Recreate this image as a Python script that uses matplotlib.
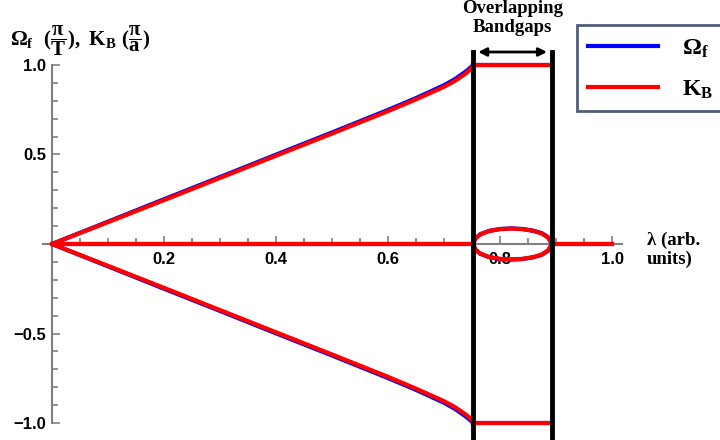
import matplotlib.pyplot as plt
from matplotlib.ticker import FixedLocator, FuncFormatter
from matplotlib.lines import Line2D

plt.rcParams['mathtext.fontset'] = 'custom'
plt.rcParams['mathtext.rm'] = 'Liberation Serif:bold'
plt.rcParams['mathtext.it'] = 'Liberation Serif:bold'
plt.rcParams['mathtext.bf'] = 'Liberation Serif:bold'

# band (real part) below the gap
lam_band = [0.0, 0.1, 0.2, 0.3, 0.4, 0.5, 0.6, 0.65, 0.7, 0.72, 0.74, 0.748, 0.752]
omega_f = [0.0, 0.125, 0.25, 0.374, 0.499, 0.623, 0.749, 0.815, 0.887, 0.922, 0.966, 0.988, 1.0]
k_b = [0.0, 0.122, 0.245, 0.369, 0.493, 0.617, 0.742, 0.808, 0.878, 0.912, 0.955, 0.978, 1.0]

# inside the bandgap
lam_gap = [0.752, 0.756, 0.765, 0.78, 0.8, 0.82, 0.84, 0.86, 0.875, 0.886, 0.893]
imag_f = [0.0, 0.032, 0.055, 0.073, 0.084, 0.087, 0.084, 0.074, 0.06, 0.038, 0.0]
imag_b = [0.0, 0.031, 0.054, 0.072, 0.083, 0.086, 0.083, 0.073, 0.058, 0.035, 0.0]
gap_lo, gap_hi = 0.752, 0.893

x_major = [0.2, 0.4, 0.6, 0.8, 1.0]
x_minor = [i * 0.05 for i in range(1, 21)]
y_major = [-1.0, -0.5, 0.5, 1.0]
y_minor = [i * 0.1 for i in range(-10, 11)]

fig = plt.figure(figsize=(7.2, 4.4), dpi=100)
ax = fig.add_axes([0, 0, 1, 1])
ax.set_xlim(-52 / 560, 668 / 560)
ax.set_ylim(-196 / 179, 244 / 179)

for lam, re, im, c in [(lam_band, omega_f, imag_f, '#0000ff'), (lam_band, k_b, imag_b, '#ff0000')]:
    ax.plot(lam, re, color=c, lw=3, solid_capstyle='butt', zorder=3)
    ax.plot(lam, [-v for v in re], color=c, lw=3, solid_capstyle='butt', zorder=3)
    ax.plot([0, gap_lo], [0, 0], color=c, lw=3, zorder=3)
    ax.plot([gap_hi, 1.0], [0, 0], color=c, lw=3, zorder=3)
    ax.plot([gap_lo, gap_hi], [1, 1], color=c, lw=3, zorder=3)
    ax.plot([gap_lo, gap_hi], [-1, -1], color=c, lw=3, zorder=3)
    ax.plot(lam_gap, im, color=c, lw=3, zorder=3)
    ax.plot(lam_gap, [-v for v in im], color=c, lw=3, zorder=3)

# bandgap markers
top = (244 - 52) / 179
ax.plot([gap_lo, gap_lo], [-2, top], color='black', lw=3.5, zorder=4)
ax.plot([gap_hi, gap_hi], [-2, top], color='black', lw=3.5, zorder=4)
ax.annotate('', xy=(gap_lo + 0.004, top), xytext=(gap_hi - 0.004, top),
            arrowprops=dict(arrowstyle='<|-|>', color='black', lw=2, mutation_scale=12))
ax.text((gap_lo + gap_hi) / 2, (244 - 0) / 179, 'Overlapping\nBandgaps', ha='center', va='top',
        family='Liberation Serif', fontweight='bold', fontsize=13.5, linespacing=1.15)

# axes through the origin
for s in ['top', 'right']:
    ax.spines[s].set_visible(False)
ax.spines['left'].set_position(('data', 0))
ax.spines['bottom'].set_position(('data', 0))
ax.spines['left'].set_bounds(-1, 1)
ax.spines['bottom'].set_bounds(-0.016, 1.018)
for s in ['left', 'bottom']:
    ax.spines[s].set_color('#808080')
    ax.spines[s].set_linewidth(1.5)
    ax.spines[s].set_zorder(2)

ax.xaxis.set_major_locator(FixedLocator(x_major))
ax.xaxis.set_minor_locator(FixedLocator(x_minor))
ax.yaxis.set_major_locator(FixedLocator(y_major))
ax.yaxis.set_minor_locator(FixedLocator(y_minor))

def fmt(v, pos):
    return ('%.1f' % v).replace('-', '\u2212')

ax.xaxis.set_major_formatter(FuncFormatter(fmt))
ax.yaxis.set_major_formatter(FuncFormatter(fmt))
ax.tick_params(which='both', direction='in', color='#808080', width=1.2)
ax.tick_params(which='major', length=6)
ax.tick_params(which='minor', length=4)
ax.tick_params(axis='x', pad=6)
ax.tick_params(axis='y', pad=4)
for lab in ax.get_xticklabels() + ax.get_yticklabels():
    lab.set_family('Liberation Sans')
    lab.set_fontweight('bold')
    lab.set_fontsize(12)

ax.text(-0.075, (244 - 46) / 179, r'$\Omega_\mathrm{f}\ \ (\dfrac{\pi}{T}),\ K_B\ (\dfrac{\pi}{a})$',
        fontsize=15, ha='left', va='baseline')
ax.text(1.062, (244 - 232) / 179, 'λ (arb.\nunits)', ha='left', va='top',
        family='Liberation Serif', fontweight='bold', fontsize=13.5, linespacing=1.1)

handles = [Line2D([], [], color='#0000ff', lw=3), Line2D([], [], color='#ff0000', lw=3)]
leg = ax.legend(handles, [r'$\Omega_\mathrm{f}$', r'$K_B$'], loc='upper left',
                bbox_to_anchor=(577 / 720, 1 - 25 / 440), frameon=True, fancybox=False,
                fontsize=17, handlelength=3.0, handletextpad=1.0, labelspacing=0.7,
                borderpad=0.45, borderaxespad=0)
leg.get_frame().set_edgecolor('#25365a')
leg.get_frame().set_linewidth(2)

fig.savefig('out.png', dpi=100)
